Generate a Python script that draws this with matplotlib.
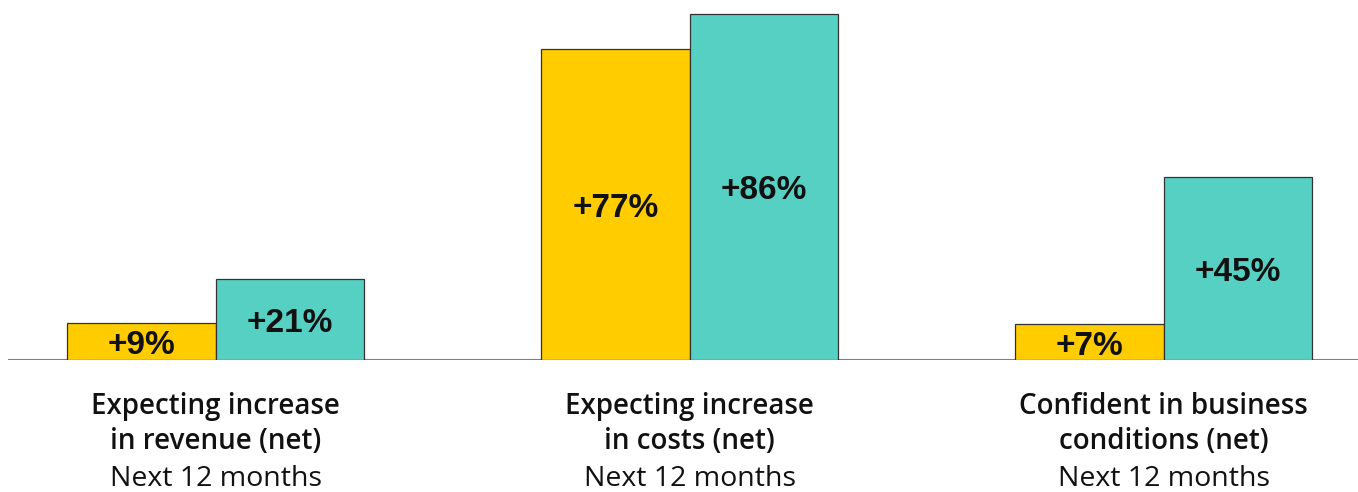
import matplotlib.pyplot as plt
import numpy as np

categories = [
    ("Expecting increase", "in revenue (net)", "Next 12 months"),
    ("Expecting increase", "in costs (net)", "Next 12 months"),
    ("Confident in business", "conditions (net)", "Next 12 months"),
]
# bar heights as drawn in the source picture (the +7% bar is drawn about as tall as +9%)
series_a = [9.2, 77.2, 8.9]
series_b = [20.2, 85.9, 45.4]
labels_a = ["+9%", "+77%", "+7%"]
labels_b = ["+21%", "+86%", "+45%"]

YELLOW = "#FFCC00"
TEAL = "#57D0C4"

plt.rcParams["font.family"] = ["Liberation Sans", "DejaVu Sans"]

W, H = 1358, 492
fig = plt.figure(figsize=(W / 100, H / 100), dpi=100)

# axes placed in pixel terms: baseline at y=360 from top, left edge at x=8
base_px = 132
ax = fig.add_axes([8 / W, base_px / H, 1 - 8 / W, 1 - base_px / H])

step = 474.0
width = 148.5 / step
x = np.arange(len(categories))
ax.set_xlim(-(215.5 - 8) / step, (W - 215.5) / step)
ax.set_ylim(0, 360 / 4.03)

ax.bar(x - width / 2, series_a, width, color=YELLOW, edgecolor="#333333", linewidth=0.9)
ax.bar(x + width / 2, series_b, width, color=TEAL, edgecolor="#333333", linewidth=0.9)

for xi, v, lab in zip(x - width / 2, series_a, labels_a):
    ax.text(xi, v / 2 - 1.0, lab, ha="center", va="center", fontsize=24,
            fontweight="bold", color="#111111")
for xi, v, lab in zip(x + width / 2, series_b, labels_b):
    ax.text(xi, v / 2 - 1.0, lab, ha="center", va="center", fontsize=24,
            fontweight="bold", color="#111111")

ax.axhline(0, color="#808080", linewidth=1.5, zorder=0)

cat_font = ["Open Sans", "DejaVu Sans"]
for xi, (l1, l2, l3) in zip(x, categories):
    ax.text(xi, -11.6, l1, ha="center", va="center", fontsize=20,
            fontweight="semibold", color="#111111", family=cat_font)
    ax.text(xi, -20.3, l2, ha="center", va="center", fontsize=20,
            fontweight="semibold", color="#111111", family=cat_font)
    ax.text(xi, -29.5, l3, ha="center", va="center", fontsize=20.5,
            color="#111111", family=cat_font)

ax.axis("off")
fig.savefig("out.png", dpi=100)
